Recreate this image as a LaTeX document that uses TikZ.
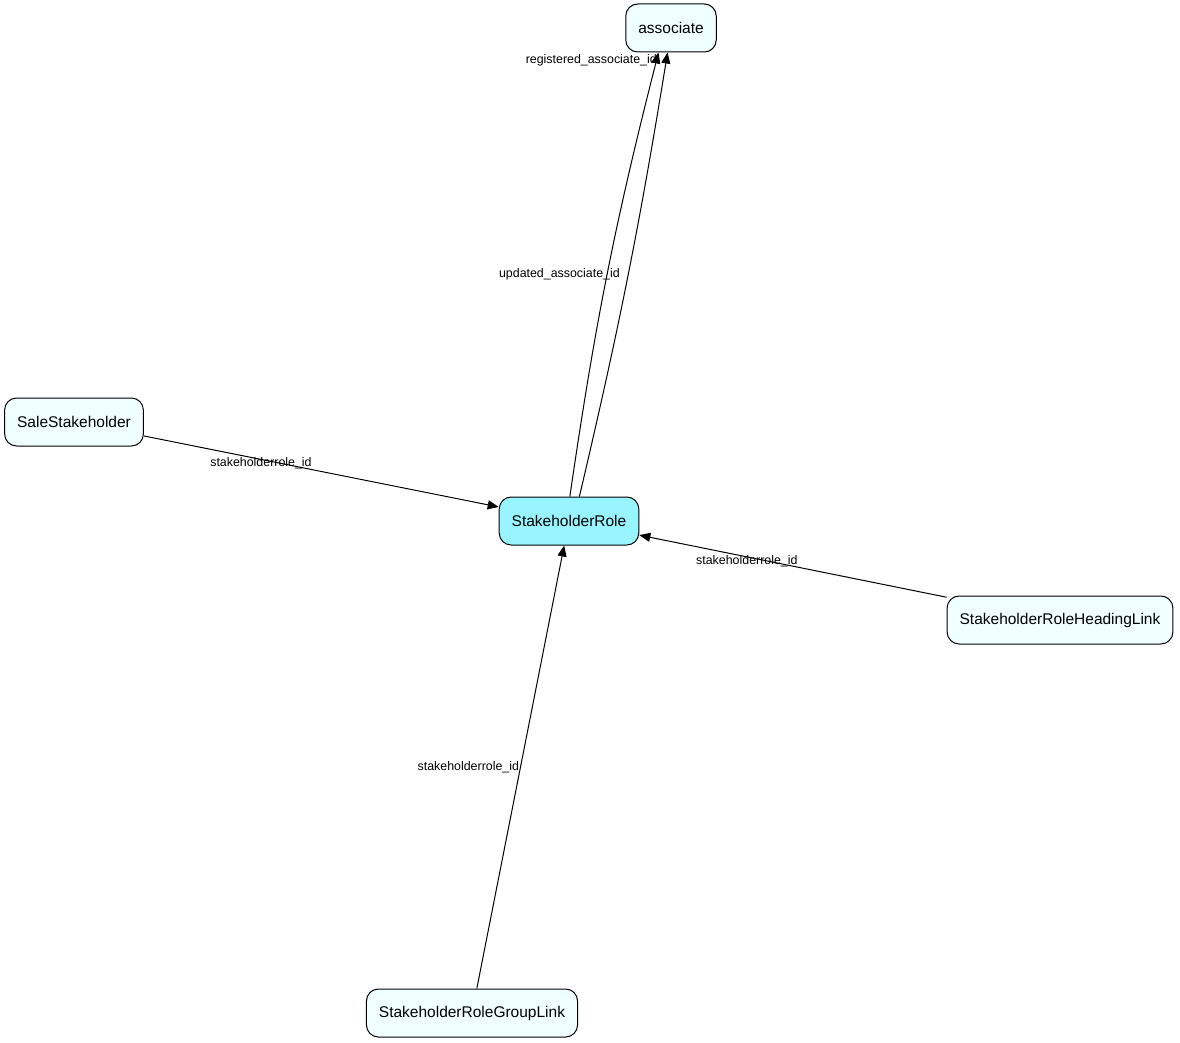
\documentclass[tikz,border=0pt]{standalone}
\usepackage{fontspec}
\setmainfont{Liberation Sans}
\usetikzlibrary{arrows.meta}
\definecolor{tablefill}{HTML}{F0FFFF}
\definecolor{rolefill}{HTML}{98F5FF}
\begin{document}
\begin{tikzpicture}[x=1pt,y=-1pt,
        tbl/.style={draw,line width=1pt,rounded corners=12pt,fill=tablefill,minimum height=48pt,inner xsep=12.5pt,font=\fontsize{15.5}{18}\selectfont},
        fk/.style={line width=1pt,-{Triangle[length=11pt,width=9pt]}},
        lbl/.style={font=\fontsize{12.4}{14}\selectfont,inner sep=1pt}]
            \useasboundingbox (0,0) rectangle (1180,1043);
            \node[tbl] (associate) at (671,28) {associate};
            \node[tbl,fill=rolefill] (role) at (569,521) {StakeholderRole};
            \node[tbl] (sale) at (74,422) {SaleStakeholder};
            \node[tbl] (heading) at (1060,620) {StakeholderRoleHeadingLink};
            \node[tbl] (group) at (472,1013) {StakeholderRoleGroupLink};
            \draw[fk] (sale) -- node[lbl,pos=0.33,yshift=-4pt] {stakeholderrole\_id} (role);
            \draw[fk] (heading) -- node[lbl,pos=0.65,yshift=-4pt] {stakeholderrole\_id} (role);
            \draw[fk] (group) -- node[lbl,pos=0.5,anchor=east] {stakeholderrole\_id} (role);
            \draw[fk] (role.88) to[bend left=3] node[lbl,pos=0.5,xshift=-48pt,yshift=-1pt] {updated\_associate\_id} (associate.243);
            \draw[fk] (role.67) to[bend right=2] node[lbl,pos=0.985,anchor=east,xshift=-8pt] {registered\_associate\_id} (associate.262);
        \end{tikzpicture}
\end{document}
